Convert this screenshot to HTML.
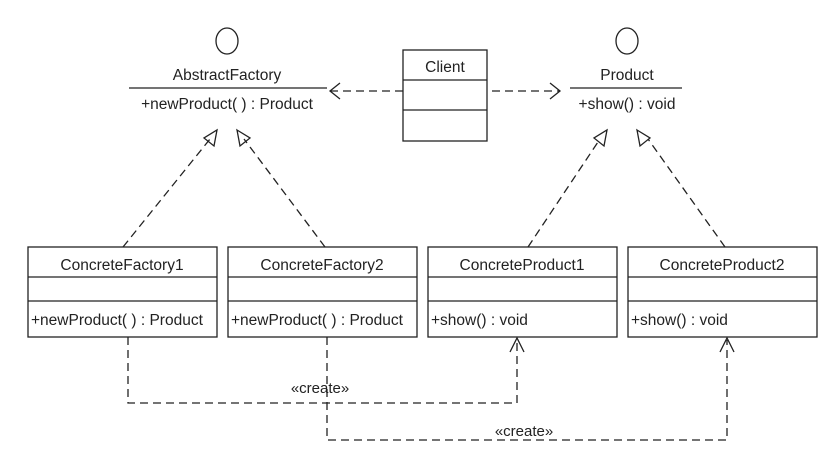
<!DOCTYPE html>
<html><head><meta charset="utf-8"><style>body{margin:0;background:#fff}svg{display:block}</style></head><body>
<svg width="836" height="473" xmlns="http://www.w3.org/2000/svg" font-family="Liberation Sans, sans-serif" font-size="15.5">
<rect width="836" height="473" fill="#fff"/>
<g stroke="#222" stroke-width="1.3" fill="none">
<ellipse cx="227" cy="41" rx="11" ry="13"/>
<ellipse cx="627" cy="41" rx="11" ry="13"/>
<line x1="129" y1="88" x2="327" y2="88"/>
<line x1="570" y1="88" x2="682" y2="88"/>
<rect x="403" y="50" width="84" height="91"/>
<line x1="403" y1="80" x2="487" y2="80"/><line x1="403" y1="110" x2="487" y2="110"/>
<g id="b"><rect x="28" y="247" width="189" height="90"/><line x1="28" y1="277" x2="217" y2="277"/><line x1="28" y1="301" x2="217" y2="301"/></g>
<use href="#b" x="200"/><use href="#b" x="400"/><use href="#b" x="600"/>
<g stroke-dasharray="8,5">
<line x1="403" y1="91" x2="330" y2="91"/><line x1="492" y1="91" x2="560" y2="91"/>
<line x1="123" y1="247" x2="210" y2="139"/><line x1="325" y1="247" x2="244" y2="139"/>
<line x1="528" y1="247" x2="600" y2="139"/><line x1="725" y1="247" x2="648" y2="139"/>
<polyline points="128,337 128,403 517,403 517,340"/>
<polyline points="327,337 327,440 727,440 727,340"/>
</g>
<polyline points="340,83 330,91 340,99"/><polyline points="550,83 560,91 550,99"/>
<polyline points="510,352 517,338 524,352"/><polyline points="720,352 727,338 734,352"/>
<polygon points="217,130 214,146 204,138"/><polygon points="237,130 250,138 240,146"/>
<polygon points="607,130 604,146 594,138"/><polygon points="637,130 650,138 640,146"/>
</g>
<g fill="#222" text-anchor="middle">
<text x="227" y="80">AbstractFactory</text>
<text x="227" y="109">+newProduct( ) : Product</text>
<text x="627" y="80">Product</text>
<text x="627" y="109">+show() : void</text>
<text x="445" y="72">Client</text>
<text x="122" y="270">ConcreteFactory1</text>
<text x="322" y="270">ConcreteFactory2</text>
<text x="522" y="270">ConcreteProduct1</text>
<text x="722" y="270">ConcreteProduct2</text>
<text x="320" y="393" font-size="15">«create»</text>
<text x="524" y="436" font-size="15">«create»</text>
</g>
<g fill="#222">
<text x="31" y="325">+newProduct( ) : Product</text>
<text x="231" y="325">+newProduct( ) : Product</text>
<text x="431" y="325">+show() : void</text>
<text x="631" y="325">+show() : void</text>
</g>
</svg>
</body></html>
